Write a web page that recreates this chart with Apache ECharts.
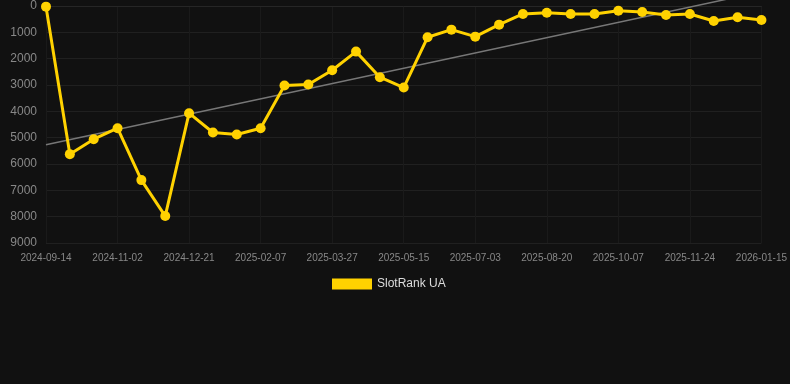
<!DOCTYPE html>
<html>
<head>
<meta charset="utf-8">
<script src="https://cdn.jsdelivr.net/npm/echarts@6/dist/echarts.min.js"></script>
<style>
  html, body { margin: 0; padding: 0; background: #111111; }
  #container { width: 790px; height: 384px; }
</style>
</head>
<body>
<div id="container"></div>
<script>
// dates (category axis, every 3rd one is labelled)
const dates = [
    '2024-09-14', '2024-09-30', '2024-10-17', '2024-11-02', '2024-11-18', '2024-12-05',
    '2024-12-21', '2025-01-06', '2025-01-22', '2025-02-07', '2025-02-23', '2025-03-11',
    '2025-03-27', '2025-04-12', '2025-04-29', '2025-05-15', '2025-05-31', '2025-06-17',
    '2025-07-03', '2025-07-19', '2025-08-04', '2025-08-20', '2025-09-05', '2025-09-21',
    '2025-10-07', '2025-10-23', '2025-11-08', '2025-11-24', '2025-12-11', '2025-12-29',
    '2026-01-15'
];
// rank values
const slotRankUA = [
    25, 5626, 5057, 4640, 6612, 7977,
    4071, 4804, 4880, 4640, 3021, 2984,
    2440, 1732, 2705, 3097, 1188, 898,
    1163, 708, 303, 253, 303, 303,
    177, 228, 341, 303, 569, 430,
    531
];
// trend line end points
const trendStart = 5270;
const trendEnd = -540;

let dom = document.getElementById('container');
let myChart = echarts.init(dom);

let option = {
    backgroundColor: '#111111',
    textStyle: { fontFamily: 'Liberation Sans, Arial, sans-serif' },
    animation: false,
    grid: {
        left: 46,
        right: 28,
        top: 6,
        bottom: 141
    },
    legend: {
        data: ['SlotRank UA'],
        top: 273,
        left: 327,
        itemWidth: 40,
        itemHeight: 11,
        itemGap: 10,
        icon: 'rect',
        textStyle: { color: '#dddddd', fontSize: 12 }
    },
    xAxis: {
        type: 'category',
        data: dates,
        boundaryGap: false,
        axisLine: { show: true, lineStyle: { color: '#262626' } },
        axisTick: { show: false },
        axisLabel: {
            interval: 2,
            color: '#888888',
            fontSize: 10,
            margin: 10
        },
        splitLine: { show: true, lineStyle: { color: '#1a1a1a' } }
    },
    yAxis: {
        type: 'value',
        inverse: true,
        min: 0,
        max: 9000,
        interval: 1000,
        axisLine: { show: false },
        axisTick: { show: false },
        axisLabel: {
            color: '#888888',
            fontSize: 12,
            margin: 9,
            formatter: function (v) { return String(v); }
        },
        splitLine: { lineStyle: { color: '#202020' } }
    },
    series: [
        {
            name: 'trend',
            type: 'line',
            data: [[dates[0], trendStart], [dates[dates.length - 1], trendEnd]],
            symbol: 'none',
            clip: false,
            z: 1,
            lineStyle: { color: '#777777', width: 1.5 },
            silent: true
        },
        {
            name: 'SlotRank UA',
            type: 'line',
            data: slotRankUA,
            symbol: 'circle',
            symbolSize: 10,
            z: 3,
            itemStyle: { color: '#ffd200' },
            lineStyle: { color: '#ffd200', width: 3 }
        }
    ]
};
myChart.setOption(option);
</script>
</body>
</html>
